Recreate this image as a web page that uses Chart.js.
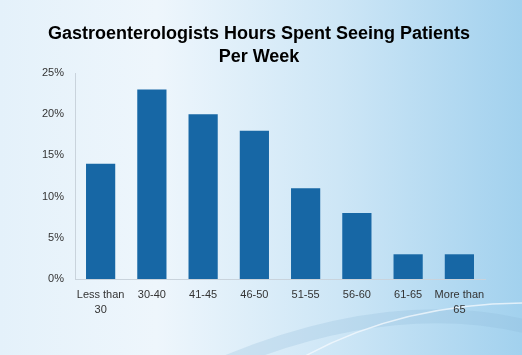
<!DOCTYPE html>
<html>
<head>
<meta charset="utf-8">
<script src="https://cdn.jsdelivr.net/npm/chart.js@4"></script>
<style>
    html, body { margin: 0; padding: 0; background: #ffffff; }
    #wrap { width: 522px; height: 355px; position: relative; }
</style>
</head>
<body>
<div id="wrap"><canvas id="hoursChart" width="522" height="355"></canvas></div>
<script>
const categories = [['Less than', '30'], '30-40', '41-45', '46-50', '51-55', '56-60', '61-65', ['More than', '65']];
const shareOfRespondents = [14, 23, 20, 18, 11, 8, 3, 3];
const yTicks = [0, 5, 10, 15, 20, 25];

// slide-like backdrop: light blue gradient with a faint swoosh near the bottom
const slideBackground = {
    id: 'slideBackground',
    beforeDraw(chart) {
        const ctx = chart.ctx;
        const w = chart.width;
        const h = chart.height;
        ctx.save();
        const grad = ctx.createLinearGradient(0, 0, w, 0);
        grad.addColorStop(0, '#e4f1fa');
        grad.addColorStop(0.3, '#eef6fc');
        grad.addColorStop(0.65, '#cde6f6');
        grad.addColorStop(1, '#a2d1ee');
        ctx.fillStyle = grad;
        ctx.fillRect(0, 0, w, h);

        ctx.strokeStyle = 'rgba(140, 185, 215, 0.25)';
        ctx.lineWidth = 14;
        ctx.beginPath();
        ctx.moveTo(215, h + 12);
        ctx.quadraticCurveTo(390, 292, w + 10, 328);
        ctx.stroke();
        ctx.strokeStyle = 'rgba(245, 250, 254, 0.75)';
        ctx.lineWidth = 1.5;
        ctx.beginPath();
        ctx.moveTo(298, h + 5);
        ctx.quadraticCurveTo(400, 302, w + 10, 303);
        ctx.stroke();
        ctx.restore();
    },
};

// the slide title is centred on the whole slide, not on the plot column
const centreTitle = {
    id: 'centreTitle',
    afterLayout(chart) {
        if (chart.titleBlock) {
            chart.titleBlock.left = 0;
            chart.titleBlock.right = 518;
        }
    },
};

new Chart(document.getElementById('hoursChart'), {
    type: 'bar',
    data: {
        labels: categories,
        datasets: [
            {
                data: shareOfRespondents,
                backgroundColor: '#1767a5',
                borderWidth: 0,
                barPercentage: 0.57,
                categoryPercentage: 1,
            },
        ],
    },
    options: {
        responsive: false,
        animation: false,
        layout: {
            padding: { top: 23, right: 37, bottom: 0, left: 0 },
        },
        plugins: {
            legend: { display: false },
            tooltip: { enabled: false },
            title: {
                display: true,
                text: ['Gastroenterologists Hours Spent Seeing Patients', 'Per Week'],
                color: '#000000',
                font: { family: 'Liberation Sans, Arial, sans-serif', size: 18, weight: 'bold', lineHeight: 1.25 },
                padding: { top: 0, bottom: 5 },
            },
        },
        scales: {
            x: {
                grid: { display: false, drawTicks: false },
                border: { display: true, color: '#c9d3dc', width: 1 },
                ticks: {
                    color: '#333333',
                    padding: 9,
                    maxRotation: 0,
                    autoSkip: false,
                    font: { family: 'Liberation Sans, Arial, sans-serif', size: 11, lineHeight: 1.35 },
                },
                afterFit(scale) { scale.height = 76; },
            },
            y: {
                min: 0,
                max: 25,
                afterBuildTicks(scale) { scale.ticks = yTicks.map(v => ({ value: v })); },
                grid: { display: false, drawTicks: false },
                border: { display: true, color: '#c9d3dc', width: 1 },
                ticks: {
                    color: '#333333',
                    padding: 11,
                    font: { family: 'Liberation Sans, Arial, sans-serif', size: 11 },
                    callback: v => v + '%',
                },
                afterFit(scale) { scale.width = 75; },
            },
        },
    },
    plugins: [slideBackground, centreTitle],
});
</script>
</body>
</html>
